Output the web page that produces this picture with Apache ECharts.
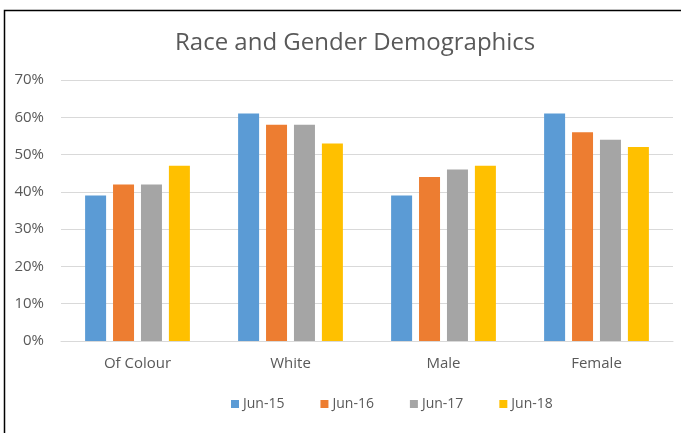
<!DOCTYPE html>
<html>
<head>
<meta charset="utf-8">
<script src="https://cdn.jsdelivr.net/npm/echarts@6/dist/echarts.min.js"></script>
<style>
html,body{margin:0;padding:0;background:#fff}
#chart{width:681px;height:433px}
</style>
</head>
<body>
<div id="chart"></div>
<script>
const categories=["Of Colour","White","Male","Female"];
const jun15=[39,61,39,61];
const jun16=[42,58,44,56];
const jun17=[42,58,46,54];
const jun18=[47,53,47,52];
const seriesNames=["Jun-15","Jun-16","Jun-17","Jun-18"];
const colors=["#5B9BD5","#ED7D31","#A5A5A5","#FFC000"];

const chart=echarts.init(document.getElementById("chart"));
const font="'Open Sans', 'Noto Sans', sans-serif";

chart.setOption({
  animation:false,
  color:colors,
  textStyle:{fontFamily:font},
  graphic:[{
    type:"polyline",
    shape:{points:[[4.5,440],[4.5,10.5],[700,10.5]]},
    style:{stroke:"#000",lineWidth:1.5,fill:null}
  }],
  title:{
    text:"Race and Gender Demographics",
    left:170,top:26,
    textStyle:{fontFamily:font,fontSize:24,fontWeight:"normal",color:"#595959"}
  },
  legend:{
    bottom:17,left:226,
    itemWidth:8,itemHeight:8,itemGap:36,icon:"rect",
    textStyle:{fontFamily:font,fontSize:14,color:"#595959",padding:[0,0,0,-1]},
    data:seriesNames
  },
  grid:{left:61,right:8,top:80,bottom:92,containLabel:false},
  xAxis:{
    type:"category",data:categories,
    axisLine:{show:true,lineStyle:{color:"#D9D9D9"}},
    axisTick:{show:false},
    axisLabel:{fontFamily:font,fontSize:15,color:"#595959",margin:15}
  },
  yAxis:{
    type:"value",min:0,max:70,interval:10,
    axisLabel:{formatter:"{value}%",fontFamily:font,fontSize:15,color:"#595959",margin:17},
    splitLine:{lineStyle:{color:"#D9D9D9"}}
  },
  series:[jun15,jun16,jun17,jun18].map((d,i)=>({
    name:seriesNames[i],type:"bar",data:d,barWidth:21,barGap:"33%"
  }))
});
</script>
</body>
</html>
